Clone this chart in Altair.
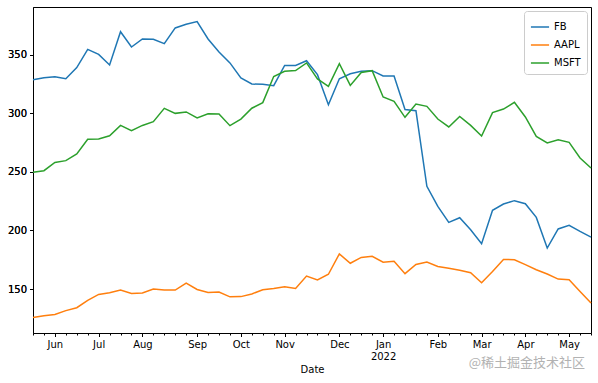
import altair as alt
import pandas as pd
import datetime as dt

start = dt.date(2021, 5, 24)
dates = [(start + dt.timedelta(weeks=i)).isoformat() for i in range(52)]

fb = [328.9, 330.6, 331.4, 329.7, 339.2, 354.8, 350.5, 341.5, 369.9, 356.8,
      363.7, 363.4, 359.7, 373.1, 376.2, 378.6, 363.7, 352.6, 343.2, 330.3,
      325.2, 324.9, 323.8, 341.1, 341.1, 345.1, 333.2, 307.5, 329.7, 334.0,
      336.0, 336.6, 332.0, 332.0, 303.4, 302.4, 237.7, 220.6, 206.9, 210.9,
      200.7, 188.7, 217.2, 222.6, 225.5, 222.9, 211.2, 185.0, 201.3, 204.4,
      199.2, 194.4]
aapl = [125.7, 127.2, 128.3, 131.5, 134.0, 140.3, 145.4, 146.8, 149.1, 146.2,
        146.6, 150.0, 149.1, 149.1, 155.1, 149.6, 147.0, 147.4, 143.3, 143.5,
        145.8, 149.4, 150.5, 152.0, 150.5, 161.1, 157.8, 162.6, 180.0, 172.0,
        177.0, 178.0, 172.9, 173.7, 163.1, 171.0, 173.0, 169.3, 167.8, 166.0,
        163.9, 155.4, 165.0, 175.3, 175.0, 170.8, 166.5, 162.8, 158.5, 157.9,
        147.9, 138.0]
msft = [249.7, 251.1, 258.2, 259.7, 265.4, 277.9, 278.2, 281.0, 289.8, 285.3,
        289.8, 293.0, 304.4, 300.1, 301.3, 296.2, 299.8, 299.6, 289.6, 295.2,
        304.5, 309.3, 331.6, 336.0, 336.7, 343.2, 329.5, 323.2, 342.6, 324.0,
        335.1, 336.6, 314.1, 310.3, 296.7, 308.1, 306.1, 295.3, 288.5, 297.5,
        289.8, 280.8, 300.7, 303.8, 309.5, 297.0, 280.4, 274.8, 277.6, 275.3,
        262.0, 253.4]

series = ["FB", "AAPL", "MSFT"]
colors = ["#1f77b4", "#ff7f0e", "#2ca02c"]
y_ticks = [150, 200, 250, 300, 350]
watermark = "@稀土掘金技术社区"

rows = []
for name, vals in zip(series, [fb, aapl, msft]):
    for d, v in zip(dates, vals):
        rows.append({"Date": d, "series": name, "value": v})
df = pd.DataFrame(rows)

# first week of each month -> major ticks
month_starts = []
prev = None
for d in dates:
    m = d[:7]
    if prev is not None and m != prev:
        month_starts.append(d)
    prev = m

FONT = "DejaVu Sans"
xscale = alt.Scale(type="point", padding=0)
yscale = alt.Scale(domain=[112.4, 391], nice=False, zero=False)

minor_axis = alt.Axis(orient="bottom", values=dates, labels=False, tickSize=2,
                      tickColor="black", domain=False, title=None, grid=False)
major_axis = alt.Axis(orient="bottom", values=month_starts, tickSize=3.5, tickColor="black",
                      domainColor="black", grid=False, labelAngle=0,
                      labelFont=FONT, labelFontSize=10, labelColor="black",
                      labelPadding=3, titleFont=FONT, titleFontSize=10,
                      titleFontWeight="normal", titleColor="black", titlePadding=3,
                      labelExpr="utcmonth(toDate(datum.value))==0 ? [utcFormat(toDate(datum.value),'%b'), utcFormat(toDate(datum.value),'%Y')] : utcFormat(toDate(datum.value),'%b')")

yaxis = alt.Axis(orient="left", values=y_ticks, tickSize=3.5, tickColor="black",
                 domainColor="black", grid=False, title=None, labelFont=FONT,
                 labelFontSize=10, labelColor="black", labelPadding=3)
yaxis_right = alt.Axis(orient="right", values=y_ticks, ticks=False, labels=False,
                       domainColor="black", grid=False, title=None)
xaxis_top = alt.Axis(orient="top", values=dates, ticks=False, labels=False,
                     domainColor="black", grid=False, title=None)

lines = alt.Chart(df).mark_line(strokeWidth=1.5).encode(
    x=alt.X("Date:O", scale=xscale, axis=major_axis, title="Date"),
    y=alt.Y("value:Q", scale=yscale, axis=yaxis),
    color=alt.Color("series:N", scale=alt.Scale(domain=series, range=colors),
                    sort=series,
                    legend=alt.Legend(title=None, orient="top-right", offset=4,
                                      fillColor="white", strokeColor="#cccccc",
                                      cornerRadius=3, padding=6,
                                      symbolType="stroke", symbolStrokeWidth=1.5,
                                      symbolSize=330, labelFont=FONT, labelFontSize=10,
                                      labelColor="black", rowPadding=3)),
    detail="series:N",
)

minor = alt.Chart(df).mark_line(opacity=0).encode(
    x=alt.X("Date:O", scale=xscale, axis=minor_axis),
    y=alt.Y("value:Q", scale=yscale, axis=yaxis_right),
    detail="series:N",
)

frame_top = alt.Chart(df).mark_line(opacity=0).encode(
    x=alt.X("Date:O", scale=xscale, axis=xaxis_top),
    y=alt.Y("value:Q", scale=yscale, axis=yaxis),
    detail="series:N",
)

wm = alt.Chart(pd.DataFrame({"t": [watermark]})).mark_text(
    align="right", baseline="middle", font="Noto Sans CJK SC", fontSize=13,
    color="#a0a0a0", opacity=0.8
).encode(text="t:N", x=alt.value(552), y=alt.value(356))

chart = alt.layer(lines, minor, frame_top, wm).resolve_axis(
    x="independent", y="independent"
).properties(
    width=558, height=326,
    padding={"left": 33, "top": 7, "right": 7, "bottom": 50},
    autosize=alt.AutoSizeParams(type="none"),
).configure_view(stroke="black", strokeWidth=1).configure(background="white")

chart.save("out.html", embed_options={"renderer": "svg", "actions": False})
